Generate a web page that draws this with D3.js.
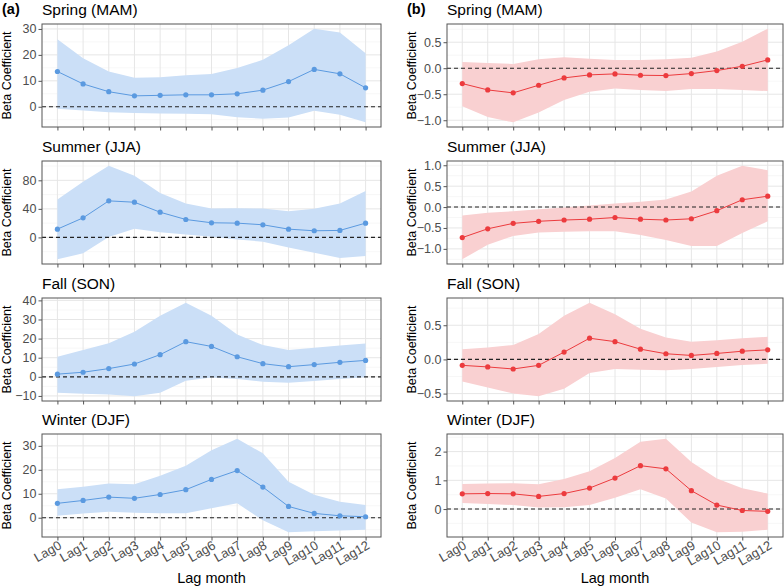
<!DOCTYPE html>
<html>
<head>
<meta charset="utf-8">
<script src="https://cdn.jsdelivr.net/npm/d3@7"></script>
<style>
  body { margin: 0; background: #fff; }
  svg { font-family: "Liberation Sans", Arial, sans-serif; }
</style>
</head>
<body>
<svg width="784" height="587"></svg>
<script>
const lags = ["Lag0","Lag1","Lag2","Lag3","Lag4","Lag5","Lag6","Lag7","Lag8","Lag9","Lag10","Lag11","Lag12"];
const seasons = ["Spring (MAM)", "Summer (JJA)", "Fall (SON)", "Winter (DJF)"];

// (a) column, blue
const springA_est = [13.6, 8.8, 5.8, 4.2, 4.4, 4.6, 4.6, 5.0, 6.4, 9.7, 14.4, 12.7, 7.3];
const springA_hi  = [26.0, 18.7, 13.6, 11.2, 11.4, 12.1, 12.6, 14.9, 18.1, 23.7, 30.1, 28.6, 20.6];
const springA_lo  = [-0.8, -1.4, -2.1, -2.4, -2.6, -2.7, -2.9, -4.0, -4.6, -4.1, -1.5, -3.1, -6.0];

const summerA_est = [11.6, 27.4, 51.2, 49.3, 35.3, 25.1, 20.5, 20.0, 17.7, 11.6, 9.3, 9.8, 20.0];
const summerA_hi  = [53, 78, 100.5, 86.5, 62.3, 47.4, 40.5, 41, 40.5, 36.7, 40, 47.4, 65];
const summerA_lo  = [-30.7, -22.3, 0.5, 12, 7.4, 4.2, 0.9, -2.8, -6, -14, -21.4, -28.8, -26];

const fallA_est = [1.4, 2.4, 4.3, 6.7, 11.6, 18.4, 15.9, 10.5, 6.9, 5.3, 6.4, 7.6, 8.6];
const fallA_hi  = [10.5, 14.1, 17.6, 23.6, 31.9, 38.8, 31.9, 22.1, 16.6, 14.0, 15.2, 16.4, 17.4];
const fallA_lo  = [-8.3, -8.8, -9.3, -10.2, -8.3, -2.1, -0.3, -1.2, -2.6, -3.1, -2.2, -1.2, -0.2];

const winterA_est = [6.0, 7.2, 8.6, 8.1, 9.7, 11.7, 16.0, 19.7, 12.8, 4.7, 1.8, 0.8, 0.4];
const winterA_hi  = [11.9, 12.9, 14.3, 14.0, 17.5, 21.7, 28.2, 33.0, 26.9, 15.0, 9.6, 6.7, 5.3];
const winterA_lo  = [0.8, 1.8, 2.5, 2.1, 1.9, 1.9, 4.0, 6.0, -1.1, -6.1, -5.7, -5.3, -5.0];

// (b) column, red
const springB_est = [-0.295, -0.417, -0.474, -0.327, -0.186, -0.128, -0.109, -0.135, -0.141, -0.103, -0.045, 0.038, 0.16];
const springB_hi  = [0.12, 0.10, 0.083, 0.17, 0.21, 0.18, 0.16, 0.16, 0.17, 0.20, 0.32, 0.51, 0.76];
const springB_lo  = [-0.73, -0.94, -1.04, -0.85, -0.61, -0.45, -0.39, -0.42, -0.44, -0.40, -0.40, -0.42, -0.44];

const summerB_est = [-0.73, -0.52, -0.39, -0.34, -0.31, -0.29, -0.25, -0.29, -0.31, -0.28, -0.087, 0.175, 0.26];
const summerB_hi  = [-0.2, -0.135, -0.1, -0.05, -0.01, 0.04, 0.087, 0.127, 0.18, 0.37, 0.75, 0.99, 0.88];
const summerB_lo  = [-1.25, -0.9, -0.69, -0.61, -0.59, -0.58, -0.58, -0.67, -0.79, -0.93, -0.93, -0.62, -0.34];

const fallB_est = [-0.087, -0.11, -0.14, -0.087, 0.107, 0.31, 0.26, 0.15, 0.083, 0.058, 0.087, 0.12, 0.14];
const fallB_hi  = [0.15, 0.175, 0.21, 0.37, 0.64, 0.83, 0.66, 0.45, 0.32, 0.26, 0.28, 0.31, 0.33];
const fallB_lo  = [-0.325, -0.41, -0.5, -0.54, -0.43, -0.2, -0.14, -0.15, -0.16, -0.14, -0.11, -0.083, -0.063];

const winterB_est = [0.53, 0.54, 0.53, 0.44, 0.54, 0.73, 1.08, 1.51, 1.40, 0.64, 0.14, -0.05, -0.08];
const winterB_hi  = [0.87, 0.89, 0.90, 0.86, 1.05, 1.32, 1.78, 2.34, 2.45, 1.64, 1.06, 0.72, 0.54];
const winterB_lo  = [0.21, 0.18, 0.14, 0.05, 0.06, 0.14, 0.39, 0.69, 0.37, -0.47, -0.81, -0.79, -0.72];

// tick labels per panel
const ticksA = [[0, 10, 20, 30], [0, 40, 80], [-10, 0, 10, 20, 30, 40], [0, 10, 20, 30]];
const ticksB = [[-1, -0.5, 0, 0.5], [-1, -0.5, 0, 0.5, 1], [-0.5, 0, 0.5], [0, 1, 2]];

const columns = [
  { tag: "(a)", left: 42, right: 381, fill: "#cbdff7", stroke: "#5b9ae0",
    est: [springA_est, summerA_est, fallA_est, winterA_est],
    hi: [springA_hi, summerA_hi, fallA_hi, winterA_hi],
    lo: [springA_lo, summerA_lo, fallA_lo, winterA_lo],
    ticks: ticksA, fmt: d3.format("d") },
  { tag: "(b)", left: 447, right: 783, fill: "#f9d0d1", stroke: "#ec3b3e",
    est: [springB_est, summerB_est, fallB_est, winterB_est],
    hi: [springB_hi, summerB_hi, fallB_hi, winterB_hi],
    lo: [springB_lo, summerB_lo, fallB_lo, winterB_lo],
    ticks: ticksB, fmt: null }
];

const svg = d3.select("svg");
const panelTops = [24, 161, 298, 434];
const panelH = 103;

columns.forEach(function(col, ci) {
  const x = d3.scalePoint(lags, [col.left, col.right]).padding(0.6);

  svg.append("text")
    .attr("x", col.left - 40).attr("y", 14)
    .attr("font-size", 14.5).attr("font-weight", "bold")
    .text(col.tag);

  seasons.forEach(function(season, si) {
    const top = panelTops[si], bottom = top + panelH;
    const est = col.est[si], hi = col.hi[si], lo = col.lo[si];
    const ymin = d3.min(lo), ymax = d3.max(hi), pad = (ymax - ymin) * 0.05;
    const y = d3.scaleLinear([ymin - pad, ymax + pad], [bottom, top]);
    const ticks = col.ticks[si];
    const step = ticks[1] - ticks[0];
    const minor = d3.range(ticks[0] - step / 2, ticks[ticks.length - 1] + step, step)
      .filter(v => v > y.domain()[0] && v < y.domain()[1]);
    const fmt = col.fmt || (Math.abs(step - 1) < 1e-9 ? d3.format("d") : d3.format(".1f"));

    const g = svg.append("g");

    // title
    g.append("text")
      .attr("x", col.left).attr("y", top - 9)
      .attr("font-size", 15.5).attr("fill", "#000")
      .text(season);

    // grid
    g.selectAll(".minor").data(minor).enter().append("line")
      .attr("x1", col.left).attr("x2", col.right)
      .attr("y1", d => y(d)).attr("y2", d => y(d))
      .attr("stroke", "#f2f2f2").attr("stroke-width", 0.6);
    g.selectAll(".major").data(ticks).enter().append("line")
      .attr("x1", col.left).attr("x2", col.right)
      .attr("y1", d => y(d)).attr("y2", d => y(d))
      .attr("stroke", "#e6e6e6").attr("stroke-width", 1);
    g.selectAll(".vgrid").data(lags).enter().append("line")
      .attr("x1", d => x(d)).attr("x2", d => x(d))
      .attr("y1", top).attr("y2", bottom)
      .attr("stroke", "#e6e6e6").attr("stroke-width", 1);

    // ribbon
    const rows = lags.map((l, i) => ({ lag: l, est: est[i], hi: hi[i], lo: lo[i] }));
    g.append("path")
      .datum(rows)
      .attr("d", d3.area().x(d => x(d.lag)).y0(d => y(d.lo)).y1(d => y(d.hi)))
      .attr("fill", col.fill);

    // zero line
    g.append("line")
      .attr("x1", col.left).attr("x2", col.right)
      .attr("y1", y(0)).attr("y2", y(0))
      .attr("stroke", "#222").attr("stroke-width", 1.1)
      .attr("stroke-dasharray", "4,3");

    // estimate line + points
    g.append("path")
      .datum(rows)
      .attr("d", d3.line().x(d => x(d.lag)).y(d => y(d.est)))
      .attr("fill", "none").attr("stroke", col.stroke).attr("stroke-width", 1);
    g.selectAll(".pt").data(rows).enter().append("circle")
      .attr("cx", d => x(d.lag)).attr("cy", d => y(d.est))
      .attr("r", 2.6).attr("fill", col.stroke);

    // border
    g.append("rect")
      .attr("x", col.left).attr("y", top)
      .attr("width", col.right - col.left).attr("height", panelH)
      .attr("fill", "none").attr("stroke", "#555").attr("stroke-width", 1);

    // y axis
    g.append("g")
      .attr("transform", "translate(" + col.left + ",0)")
      .call(d3.axisLeft(y).tickValues(ticks).tickFormat(fmt).tickSize(3.5).tickPadding(2))
      .call(a => a.select(".domain").remove())
      .call(a => a.selectAll(".tick line").attr("stroke", "#555"))
      .call(a => a.selectAll(".tick text").attr("fill", "#4d4d4d")
        .attr("font-size", 12.5).attr("font-family", "Liberation Sans, Arial, sans-serif"));

    // x ticks
    g.append("g")
      .attr("transform", "translate(0," + bottom + ")")
      .call(d3.axisBottom(x).tickSize(3.5).tickFormat(""))
      .call(a => a.select(".domain").remove())
      .call(a => a.selectAll(".tick line").attr("stroke", "#555"));

    // y title
    g.append("text")
      .attr("transform", "translate(" + (col.left - 31) + "," + (top + panelH / 2) + ") rotate(-90)")
      .attr("text-anchor", "middle").attr("font-size", 12.5)
      .text("Beta Coefficient");

    if (si === seasons.length - 1) {
      g.selectAll(".xl").data(lags).enter().append("text")
        .attr("transform", d => "translate(" + (x(d) + 5) + "," + (bottom + 11) + ") rotate(-30)")
        .attr("text-anchor", "end")
        .attr("font-size", 13).attr("fill", "#4d4d4d")
        .text(d => d);
      g.append("text")
        .attr("x", (col.left + col.right) / 2).attr("y", 583)
        .attr("text-anchor", "middle").attr("font-size", 14.5)
        .text("Lag month");
    }
  });
});
</script>
</body>
</html>
